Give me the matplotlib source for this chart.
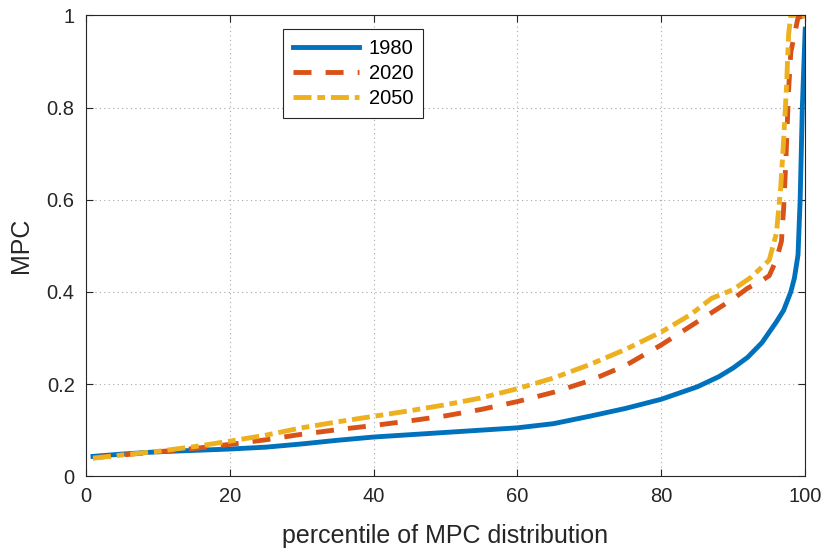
import matplotlib.pyplot as plt

plt.rcParams['font.family'] = ['Liberation Sans', 'DejaVu Sans']

# percentile of MPC distribution vs MPC
x_1980 = [1, 5, 10, 15, 20, 25, 30, 35, 40, 45, 50, 55, 60, 65, 70, 75, 80, 85, 88, 90,
          92, 94, 96, 97, 98, 98.5, 99, 99.3, 99.6, 100]
mpc_1980 = [0.043, 0.048, 0.053, 0.056, 0.059, 0.063, 0.070, 0.078, 0.085, 0.090, 0.095,
            0.100, 0.105, 0.114, 0.130, 0.147, 0.167, 0.194, 0.216, 0.235, 0.258, 0.29,
            0.335, 0.36, 0.40, 0.43, 0.48, 0.60, 0.80, 0.97]

x_2020 = [1, 5, 10, 15, 20, 25, 30, 35, 40, 45, 50, 55, 60, 65, 70, 75, 80, 85, 88, 90,
          92, 94, 95, 96, 96.7, 97, 97.3, 97.5, 97.7, 98, 99, 100]
mpc_2020 = [0.040, 0.046, 0.053, 0.060, 0.069, 0.079, 0.091, 0.101, 0.110, 0.120, 0.131,
            0.145, 0.162, 0.182, 0.207, 0.240, 0.285, 0.335, 0.365, 0.385, 0.408, 0.425,
            0.435, 0.47, 0.51, 0.58, 0.68, 0.76, 0.84, 0.92, 0.995, 1.0]

x_2050 = [1, 5, 10, 15, 20, 25, 30, 35, 40, 45, 50, 55, 60, 65, 70, 75, 80, 84, 87, 90,
          92.5, 95, 96, 96.6, 97, 97.4, 97.7, 98, 100]
mpc_2050 = [0.039, 0.046, 0.054, 0.064, 0.076, 0.089, 0.105, 0.118, 0.130, 0.142, 0.155,
            0.170, 0.190, 0.213, 0.242, 0.275, 0.313, 0.350, 0.386, 0.405, 0.432, 0.469,
            0.527, 0.627, 0.729, 0.844, 0.960, 1.0, 1.0]

labels = ['1980', '2020', '2050']
xticks = [0, 20, 40, 60, 80, 100]
yticks = [0, 0.2, 0.4, 0.6, 0.8, 1]

dark = '#262626'

fig = plt.figure(figsize=(8.25, 5.48), dpi=100)
ax = fig.add_axes([0.104, 0.131, 0.872, 0.841])

lw = 3.5
ax.plot(x_1980, mpc_1980, color='#0072BD', lw=lw, label=labels[0])
ax.plot(x_2020, mpc_2020, color='#D95319', lw=lw, dashes=(3.7, 2.9), label=labels[1])
ax.plot(x_2050, mpc_2050, color='#EDB120', lw=lw, dashes=(3.7, 1.2, 1.6, 1.2), label=labels[2])

ax.set_xlim(0, 100)
ax.set_ylim(0, 1)
ax.set_xticks(xticks)
ax.set_yticks(yticks)
ax.set_yticklabels(['%g' % v for v in yticks])
ax.tick_params(direction='in', length=5, width=0.8, colors=dark, labelsize=14.5,
               top=True, right=True, pad=8)
for s in ax.spines.values():
    s.set_color(dark)
    s.set_linewidth(0.8)
ax.grid(True, linestyle=(0, (1, 3)), color='#a8a8a8', linewidth=0.8)

ax.set_xlabel('percentile of MPC distribution', fontsize=18, color=dark, labelpad=13)
ax.set_ylabel('MPC', fontsize=18, color=dark, labelpad=10)

leg = ax.legend(loc='upper left', bbox_to_anchor=(0.274, 0.971), borderaxespad=0,
                fontsize=14.5, handlelength=3.3, handletextpad=0.45, labelspacing=0.3,
                fancybox=False, framealpha=1, edgecolor=dark, borderpad=0.5)
leg.get_frame().set_linewidth(0.8)
for t in leg.get_texts():
    t.set_color('black')

fig.savefig('out.png', dpi=100)
